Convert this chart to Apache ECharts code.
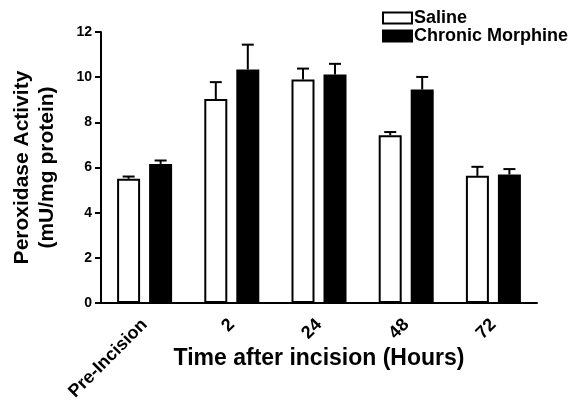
<!DOCTYPE html>
<html>
<head>
<meta charset="utf-8">
<script src="https://cdn.jsdelivr.net/npm/echarts@6/dist/echarts.min.js"></script>
<style>
  html, body { margin: 0; padding: 0; background: #fff; }
  #chart { width: 571px; height: 408px; }
</style>
</head>
<body>
<div id="chart"></div>
<script>
// categories and values
const categories = ['Pre-Incision', '2', '24', '48', '72'];
const salineMean = [5.5, 9.03, 9.9, 7.43, 5.63];
const salineErr = [0.1, 0.75, 0.48, 0.14, 0.4];
const morphineMean = [6.16, 10.34, 10.12, 9.45, 5.69];
const morphineErr = [0.15, 1.1, 0.47, 0.56, 0.24];
const yTicks = [0, 2, 4, 6, 8, 10, 12];

const FONT = 'Liberation Sans, Arial, sans-serif';
const BAR_W = 23;
const GAP = 9;

// upward-only error bars, drawn next to each bar
function errorSeries(name, means, errs, offset) {
  return {
    name: name + ' err',
    type: 'custom',
    z: 1,
    data: means.map((m, i) => [i, m, errs[i]]),
    renderItem: function (params, api) {
      const top = api.coord([api.value(0), api.value(1)]);
      const hi = api.coord([api.value(0), api.value(1) + api.value(2)]);
      const x = top[0] + offset;
      const capHalf = 6;
      return {
        type: 'group',
        children: [
          { type: 'line', shape: { x1: x, y1: top[1], x2: x, y2: hi[1] }, style: { stroke: '#000', lineWidth: 2 } },
          { type: 'line', shape: { x1: x - capHalf, y1: hi[1], x2: x + capHalf, y2: hi[1] }, style: { stroke: '#000', lineWidth: 2 } }
        ]
      };
    }
  };
}

const chart = echarts.init(document.getElementById('chart'));

const option = {
  animation: false,
  grid: { left: 101, right: 34, top: 32, bottom: 105 },
  legend: {
    orient: 'vertical',
    left: 382,
    top: 9,
    padding: 0,
    itemWidth: 29,
    itemHeight: 11,
    itemGap: 0,
    icon: 'rect',
    data: ['Saline', 'Chronic Morphine'],
    textStyle: { fontFamily: FONT, fontWeight: 'bold', fontSize: 18, lineHeight: 15, color: '#000', padding: [0, 0, 0, -3] }
  },
  xAxis: {
    type: 'category',
    data: categories,
    name: 'Time after incision (Hours)',
    nameLocation: 'middle',
    nameMoveOverlap: false,
    nameGap: 44,
    nameTextStyle: { fontFamily: FONT, fontWeight: 'bold', fontSize: 23, color: '#000' },
    axisLine: { lineStyle: { color: '#000', width: 2 } },
    axisTick: { alignWithLabel: true, length: 5, lineStyle: { width: 2, color: '#000' } },
    axisLabel: { rotate: 45, margin: 19, fontFamily: FONT, fontWeight: 'bold', fontSize: 18, color: '#000' }
  },
  yAxis: {
    type: 'value',
    min: yTicks[0],
    max: yTicks[yTicks.length - 1],
    interval: 2,
    name: 'Peroxidase Activity\n(mU/mg protein)',
    nameLocation: 'middle',
    nameMoveOverlap: false,
    nameRotate: 90,
    nameGap: 41,
    nameTextStyle: { fontFamily: FONT, fontWeight: 'bold', fontSize: 21, color: '#000', lineHeight: 25 },
    splitLine: { show: false },
    axisLine: { show: true, lineStyle: { color: '#000', width: 2 } },
    axisTick: { show: true, length: 6, lineStyle: { width: 2, color: '#000' } },
    axisLabel: { margin: 9, fontFamily: FONT, fontWeight: 'bold', fontSize: 14, color: '#000' }
  },
  series: [
    {
      name: 'Saline',
      type: 'bar',
      barWidth: BAR_W,
      barGap: (GAP / BAR_W * 100) + '%',
      z: 2,
      data: salineMean,
      itemStyle: { color: '#fff', borderColor: '#000', borderWidth: 2 }
    },
    {
      name: 'Chronic Morphine',
      type: 'bar',
      barWidth: BAR_W,
      z: 2,
      data: morphineMean,
      itemStyle: { color: '#000', borderColor: '#000', borderWidth: 2 }
    },
    errorSeries('Saline', salineMean, salineErr, -(BAR_W + GAP) / 2),
    errorSeries('Chronic Morphine', morphineMean, morphineErr, (BAR_W + GAP) / 2)
  ]
};

chart.setOption(option);
</script>
</body>
</html>
